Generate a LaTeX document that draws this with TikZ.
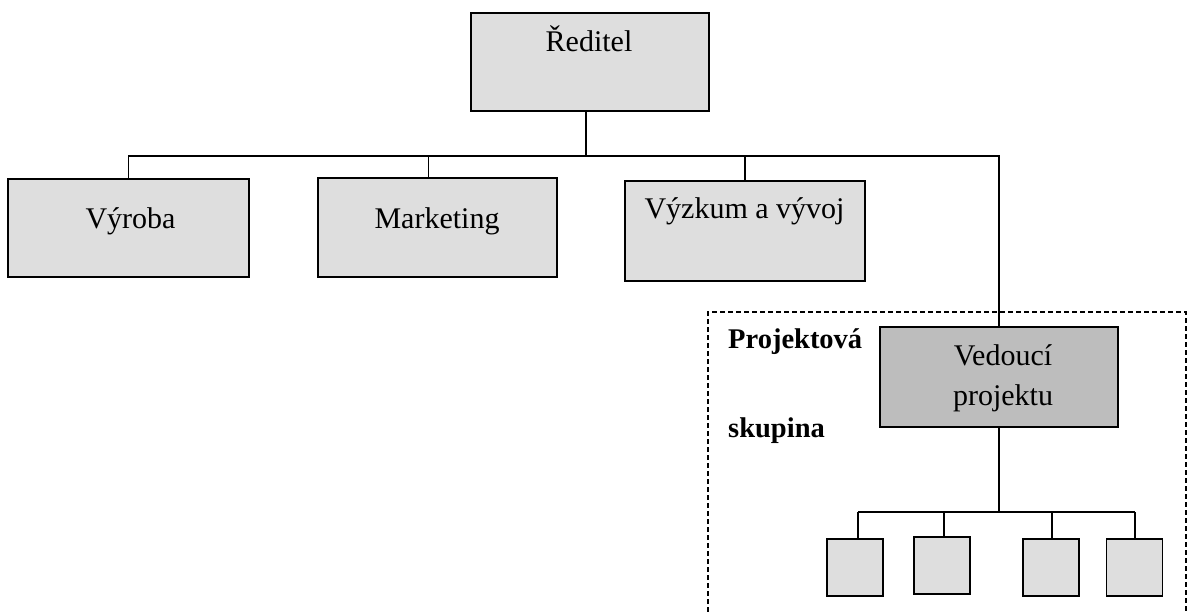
\documentclass[tikz,border=0pt]{standalone}
\usepackage{fontspec}
\setmainfont{Liberation Serif}
\usetikzlibrary{calc}
\definecolor{unitfill}{gray}{0.87}
\definecolor{leadfill}{gray}{0.74}
\tikzset{
  unit/.style={draw=black, fill=unitfill, line width=1.8pt, inner sep=0pt},
  lead/.style={draw=black, fill=leadfill, line width=1.8pt, inner sep=0pt},
  member/.style={draw=black, fill=unitfill, line width=1.8pt, inner sep=0pt,
    minimum width=56pt, minimum height=57pt},
  tag/.style={font=\fontsize{30}{36}\selectfont, inner sep=0pt, anchor=base},
  teamtag/.style={font=\fontsize{28.5}{34}\selectfont\bfseries, inner sep=0pt, anchor=base west},
  link/.style={draw=black, line width=1.6pt},
  team/.style={draw=black, line width=1.3pt, dash pattern=on 5pt off 3pt}
}
\begin{document}
\begin{tikzpicture}[x=1pt,y=-1pt]
\useasboundingbox[fill=white] (0,0) rectangle (1190,612);

% project team frame (open at the bottom)
\draw[team] (708,612) -- (708,312) -- (1186,312) -- (1186,612);

% boxes of the organisation
\node[unit, minimum width=238pt, minimum height=98pt] (dir) at (590,62) {};
\node[unit, minimum width=241pt, minimum height=98pt] (vyr) at (128.5,228) {};
\node[unit, minimum width=239pt, minimum height=99pt] (mkt) at (437.5,227.5) {};
\node[unit, minimum width=240pt, minimum height=100pt] (vav) at (745,231) {};
\node[lead, minimum width=238pt, minimum height=100pt] (ved) at (999,377) {};

\node[member] (m1) at (855,567.5) {};
\node[member] (m2) at (942,565.5) {};
\node[member] (m3) at (1051,567.5) {};
\node[member] (m4) at (1134.5,567.5) {};

% labels
\node[tag] (tdir) at (589,52) {Ředitel};
\node[tag] (tvyr) at (130.5,229) {Výroba};
\node[tag] (tmkt) at (437,229) {Marketing};
\node[tag] (tvav) at (744.5,219) {Výzkum a vývoj};
\node[tag] (tved1) at (1003,365) {Vedoucí};
\node[tag] (tved2) at (1003,405) {projektu};
\node[teamtag] (tp1) at (728,348) {Projektová};
\node[teamtag] (tp2) at (728,437) {skupina};

% line management
\draw[link] ($(dir.south)+(-4,0)$) -- ++(0,44) coordinate (bus);
\draw[link] (vyr.north) -- (vyr.north |- bus) -- (ved.north |- bus) -- (ved.north);
\draw[link] ($(mkt.north)+(-9,0)$) -- ($(mkt.north |- bus)+(-9,0)$);
\draw[link] (vav.north) -- (vav.north |- bus);

% project team
\draw[link] (ved.south) -- ++(0,84) coordinate (tbus);
\draw[link] ($(m1.north |- tbus)+(3,0)$) -- ($(m4.north |- tbus)+(0.5,0)$);
\draw[link] ($(m1.north)+(3,0)$) -- ($(m1.north |- tbus)+(3,0)$);
\draw[link] ($(m2.north)+(2,0)$) -- ($(m2.north |- tbus)+(2,0)$);
\draw[link] ($(m3.north)+(1,0)$) -- ($(m3.north |- tbus)+(1,0)$);
\draw[link] ($(m4.north)+(0.5,0)$) -- ($(m4.north |- tbus)+(0.5,0)$);
\end{tikzpicture}
\end{document}
